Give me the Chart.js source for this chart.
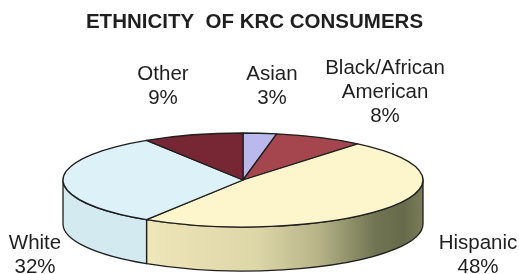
<!DOCTYPE html>
<html>
<head>
<meta charset="utf-8">
<script src="https://cdn.jsdelivr.net/npm/chart.js@4/dist/chart.umd.min.js"></script>
<style>
  html, body { margin: 0; padding: 0; background: #ffffff; }
  #wrap { position: relative; width: 519px; height: 274px; }
</style>
</head>
<body>
<div id="wrap"><canvas id="c"></canvas></div>
<script>
// ---- data ----
const categories = ["Asian", "Black/African American", "Hispanic", "White", "Other"];
const percentages = [3, 8, 48, 32, 9];
const labelLines = [["Asian", "3%"], ["Black/African", "American", "8%"], ["Hispanic", "48%"], ["White", "32%"], ["Other", "9%"]];
const chartTitle = "ETHNICITY  OF KRC CONSUMERS";

// ---- styles ----
const topColors = ["#b9b9ec", "#a5464e", "#fdf6cc", "#ddf1f8", "#772733"];
const sideColors = ["#9a9ad0", "#80343b", null, "#d4eaf1", "#5a1c25"];
const labelAnchors = [[272, 74], [385, 68], [478, 243], [35, 243], [163, 74]];

const pie3d = {
  id: 'pie3d',
  beforeDatasetsDraw(chart, args, opts) {
    const ctx = chart.ctx;
    const ca = chart.chartArea;
    const arcs = chart.getDatasetMeta(0).data;
    const cx = arcs[0].x, cy = arcs[0].y, ry = arcs[0].outerRadius;
    const rx = (ca.right - ca.left) / 2;
    const depth = opts.depth;
    ctx.save();
    ctx.lineWidth = 1.3;
    ctx.strokeStyle = '#1e1e1e';
    ctx.lineJoin = 'round';
    // sides (front half only)
    arcs.forEach((arc, i) => {
      const s = Math.max(arc.startAngle, 0);
      const e = Math.min(arc.endAngle, Math.PI);
      if (e <= s) return;
      ctx.beginPath();
      ctx.ellipse(cx, cy, rx, ry, 0, s, e, false);
      ctx.lineTo(cx + rx * Math.cos(e), cy + ry * Math.sin(e) + depth);
      ctx.ellipse(cx, cy + depth, rx, ry, 0, e, s, true);
      ctx.closePath();
      if (sideColors[i]) {
        ctx.fillStyle = sideColors[i];
      } else {
        const g = ctx.createLinearGradient(cx + rx * Math.cos(e), 0, cx + rx * Math.cos(s), 0);
        g.addColorStop(0, '#efe6b9');
        g.addColorStop(0.4, '#ddd6a7');
        g.addColorStop(0.62, '#b7b488');
        g.addColorStop(0.83, '#707452');
        g.addColorStop(0.93, '#676b4b');
        g.addColorStop(1, '#7a7d58');
        ctx.fillStyle = g;
      }
      ctx.fill();
      ctx.stroke();
    });
    // top faces
    arcs.forEach((arc, i) => {
      ctx.beginPath();
      ctx.moveTo(cx, cy);
      ctx.ellipse(cx, cy, rx, ry, 0, arc.startAngle, arc.endAngle, false);
      ctx.closePath();
      ctx.fillStyle = topColors[i];
      ctx.fill();
      ctx.stroke();
    });
    ctx.restore();
    return false;
  },
  afterDraw(chart, args, opts) {
    const ctx = chart.ctx;
    ctx.save();
    ctx.fillStyle = '#1f1f1f';
    ctx.textAlign = 'center';
    ctx.textBaseline = 'middle';
    ctx.font = 'bold 20.5px "Liberation Sans", Arial, sans-serif';
    ctx.fillText(chartTitle, 254.5, 22);
    ctx.font = '20.5px "Liberation Sans", Arial, sans-serif';
    labelLines.forEach((lines, i) => {
      const [x, y] = labelAnchors[i];
      lines.forEach((t, k) => ctx.fillText(t, x, y + k * 24));
    });
    ctx.restore();
  }
};

new Chart(document.getElementById('c'), {
  type: 'pie',
  data: {
    labels: categories,
    datasets: [{
      data: percentages,
      backgroundColor: topColors,
      borderWidth: 0
    }]
  },
  options: {
    responsive: true,
    maintainAspectRatio: false,
    animation: false,
    layout: { padding: { left: 63, right: 96, top: 133, bottom: 47 } },
    plugins: {
      legend: { display: false },
      title: { display: false },
      tooltip: { enabled: false },
      pie3d: { depth: 44 }
    }
  },
  plugins: [pie3d]
});
</script>
</body>
</html>
